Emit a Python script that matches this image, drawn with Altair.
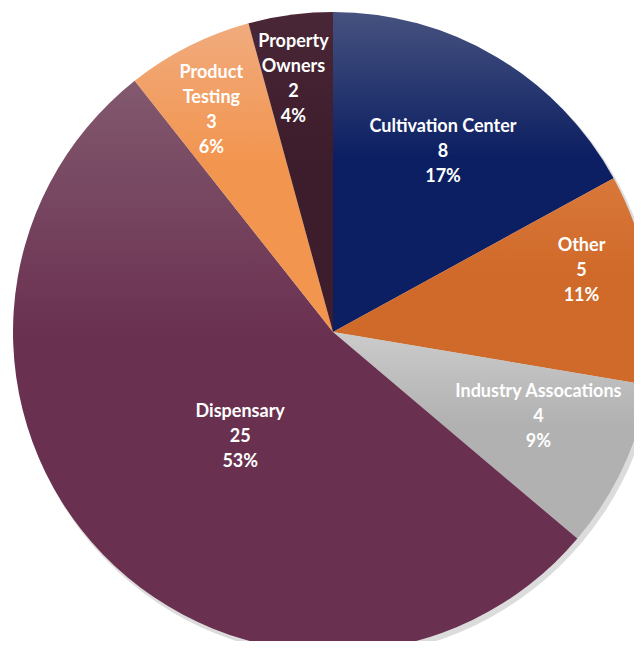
import altair as alt
import pandas as pd

categories = ["Cultivation Center", "Other", "Industry Assocations", "Dispensary", "Product Testing", "Property Owners"]
label_names = ["Cultivation Center", "Other", "Industry Assocations", "Dispensary", "Product\nTesting", "Property\nOwners"]
counts = [8, 5, 4, 25, 3, 2]

df = pd.DataFrame({
    "category": categories,
    "name": label_names,
    "value": counts,
    "idx": list(range(len(categories))),
})

# slice gradients (light at top -> base colour)
grad_stops = {
    "Cultivation Center": ("#46527f", "#0c1f62"),
    "Other": ("#d8783a", "#d06a2a"),
    "Industry Assocations": ("#cbcbcb", "#b1b1b1"),
    "Dispensary": ("#82596e", "#6a3050"),
    "Product Testing": ("#f1ab7e", "#f2954f"),
    "Property Owners": ("#4a2736", "#3d1c2b"),
}

# label placement: (radius, dx, dy) per slice
label_place = {
    "Cultivation Center": (210, 3, -24),
    "Other": (252, 0, -44),
    "Industry Assocations": (222, 4, -33),
    "Dispensary": (143, 10, -19),
    "Product Testing": (252, -8, -34),
    "Property Owners": (252, -6, -40),
}

CX, CY, R = 325, 324, 320
TAU = 6.283185307179586

base = (
    alt.Chart(df)
    .transform_joinaggregate(total="sum(value)")
    .transform_window(cum="sum(value)", sort=[alt.SortField("idx", order="ascending")])
    .transform_calculate(
        start="(datum.cum - datum.value) / datum.total",
        end="datum.cum / datum.total",
        pct="round(datum.value / datum.total * 100) + '%'",
        label="datum.name + '\\n' + datum.value + '\\n' + datum.pct",
    )
)

theta_scale = alt.Scale(domain=[0, 1], range=[0, TAU])

shadow = base.mark_arc(radius=R + 1, color="#9a9a9a", opacity=0.35).encode(
    theta=alt.Theta("start:Q", scale=theta_scale),
    theta2="end:Q",
    x=alt.value(CX + 3), y=alt.value(CY + 4),
)

layers = [shadow]
for cat in categories:
    light, dark = grad_stops[cat]
    grad = alt.LinearGradient(
        gradient="linear", x1=0, y1=0, x2=0, y2=1,
        stops=[
            alt.GradientStop(offset=0, color=light),
            alt.GradientStop(offset=0.45, color=dark),
            alt.GradientStop(offset=1, color=dark),
        ],
    )
    layers.append(
        base.transform_filter(alt.datum.category == cat)
        .mark_arc(radius=R, fill=grad)
        .encode(
            theta=alt.Theta("start:Q", scale=theta_scale),
            theta2="end:Q",
            x=alt.value(CX), y=alt.value(CY),
        )
    )

for cat in categories:
    rad, ddx, ddy = label_place[cat]
    layers.append(
        base.transform_filter(alt.datum.category == cat)
        .transform_calculate(mid="(datum.start + datum.end) / 2")
        .mark_text(
            radius=rad, dx=ddx, dy=ddy, color="white", font="Lato", fontWeight="bold",
            fontSize=18, lineBreak="\n", lineHeight=25,
            align="center", baseline="middle",
        )
        .encode(
            theta=alt.Theta("mid:Q", scale=theta_scale),
            text="label:N",
            x=alt.value(CX), y=alt.value(CY),
        )
    )

chart = (
    alt.layer(*layers)
    .properties(width=626, height=633, padding=0, autosize="none", background="white")
    .configure_view(stroke=None)
)

chart.save("out.html", embed_options={"renderer": "svg", "actions": False})
